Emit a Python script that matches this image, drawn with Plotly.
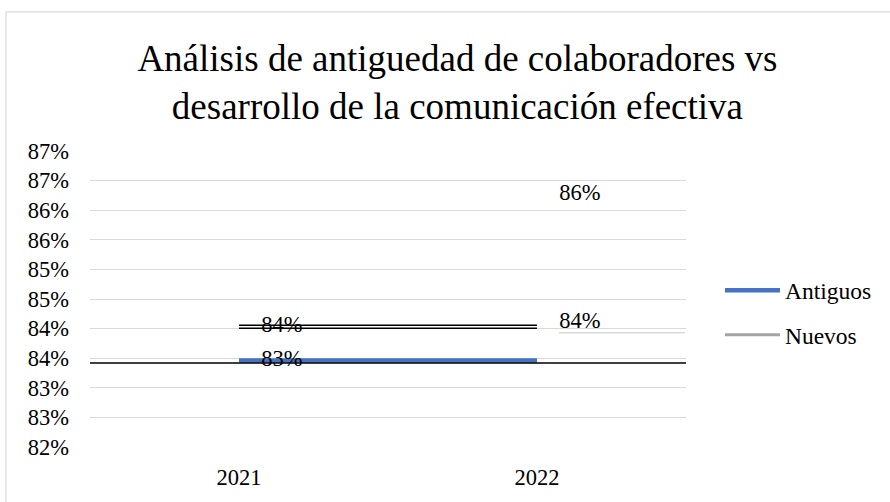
import plotly.graph_objects as go

# Categories and values
years = ["2021", "2022"]
antiguos = [0.8346, 0.8410]
nuevos = [0.8403, 0.8626]
ref_level = 0.8342          # full-width black reference line
side_level = 0.8393         # short grey segment at the right
tick_vals = [0.820, 0.825, 0.830, 0.835, 0.840, 0.845, 0.850, 0.855, 0.860, 0.865, 0.870]
tick_text = ["82%", "83%", "83%", "84%", "84%", "85%", "85%", "86%", "86%", "87%", "87%"]

FONT = "Liberation Serif"
BLUE = "#4472C4"
GREY = "#A5A5A5"
GRID = "#D9D9D9"

fig = go.Figure()

# Antiguos: flat blue segment at the 2021 level
fig.add_trace(go.Scatter(
    x=years, y=[antiguos[0], antiguos[0]], mode="lines", name="Antiguos",
    line=dict(color=BLUE, width=4.5), legendgroup="a", hoverinfo="skip",
))
# Nuevos: grey series, covered by a double black rule at the 2021 level
fig.add_trace(go.Scatter(
    x=years, y=[nuevos[0], nuevos[0]], mode="lines", name="Nuevos",
    line=dict(color=GREY, width=3), legendgroup="n", hoverinfo="skip",
))
fig.add_trace(go.Scatter(
    x=years, y=[nuevos[0], nuevos[0]], mode="lines", showlegend=False,
    line=dict(color="black", width=4.5), hoverinfo="skip",
))
fig.add_trace(go.Scatter(
    x=years, y=[nuevos[0], nuevos[0]], mode="lines", showlegend=False,
    line=dict(color="white", width=1.6), hoverinfo="skip",
))

# Data labels to the right of each point
for series in (antiguos, nuevos):
    fig.add_trace(go.Scatter(
        x=years, y=series, mode="markers+text", showlegend=False,
        marker=dict(size=34, opacity=0), hoverinfo="skip",
        text=[f"{v * 100:.0f}%" for v in series], textposition="middle right",
        textfont=dict(family=FONT, size=22.5, color="black"),
        cliponaxis=False,
    ))

shapes = [
    # gridlines at 83.5% and 84% are not shown
    dict(type="line", xref="paper", yref="y", x0=0, x1=1, y0=0.835, y1=0.835,
         line=dict(color="white", width=2), layer="between"),
    dict(type="line", xref="paper", yref="y", x0=0, x1=1, y0=0.840, y1=0.840,
         line=dict(color="white", width=2), layer="between"),
    # short grey segment at the right
    dict(type="line", xref="paper", yref="y", x0=0.787, x1=0.998, y0=side_level, y1=side_level,
         line=dict(color=GRID, width=1.5), layer="between"),
    # black reference line across the plot
    dict(type="line", xref="paper", yref="y", x0=0, x1=1, y0=ref_level, y1=ref_level,
         line=dict(color="black", width=1.6), layer="above"),
    # chart frame
    dict(type="rect", xref="paper", yref="paper", x0=-0.141, x1=1.4, y0=-0.3, y1=1.470,
         line=dict(color=GRID, width=1.2), fillcolor="rgba(0,0,0,0)", layer="below"),
]

fig.update_layout(
    width=890, height=502,
    margin=dict(l=90, r=204, t=151, b=53),
    paper_bgcolor="white", plot_bgcolor="white",
    font=dict(family=FONT, size=22, color="black"),
    title=dict(
        text="Análisis de antiguedad de colaboradores vs<br>desarrollo de la comunicación efectiva",
        x=0.514, xref="container", xanchor="center",
        y=0.858, yref="container", yanchor="middle",
        font=dict(family=FONT, size=37, color="black"),
    ),
    xaxis=dict(
        type="category", range=[-0.5, 1.5], showgrid=False,
        showline=False, ticks="", ticklabelstandoff=14,
        tickfont=dict(family=FONT, size=22.5, color="black"),
    ),
    yaxis=dict(
        range=[0.82, 0.87], tickvals=tick_vals, ticktext=tick_text,
        showgrid=True, gridcolor=GRID, gridwidth=1, zeroline=False,
        showline=False, ticks="", ticklabelstandoff=20,
        tickfont=dict(family=FONT, size=22.5, color="black"),
    ),
    legend=dict(
        x=1.057, xanchor="left", y=0.453, yanchor="middle",
        font=dict(family=FONT, size=23.5, color="black"),
        tracegroupgap=11, itemwidth=55, bgcolor="rgba(0,0,0,0)",
        traceorder="grouped",
    ),
    shapes=shapes,
    showlegend=True,
)

fig.write_html("out.html")
